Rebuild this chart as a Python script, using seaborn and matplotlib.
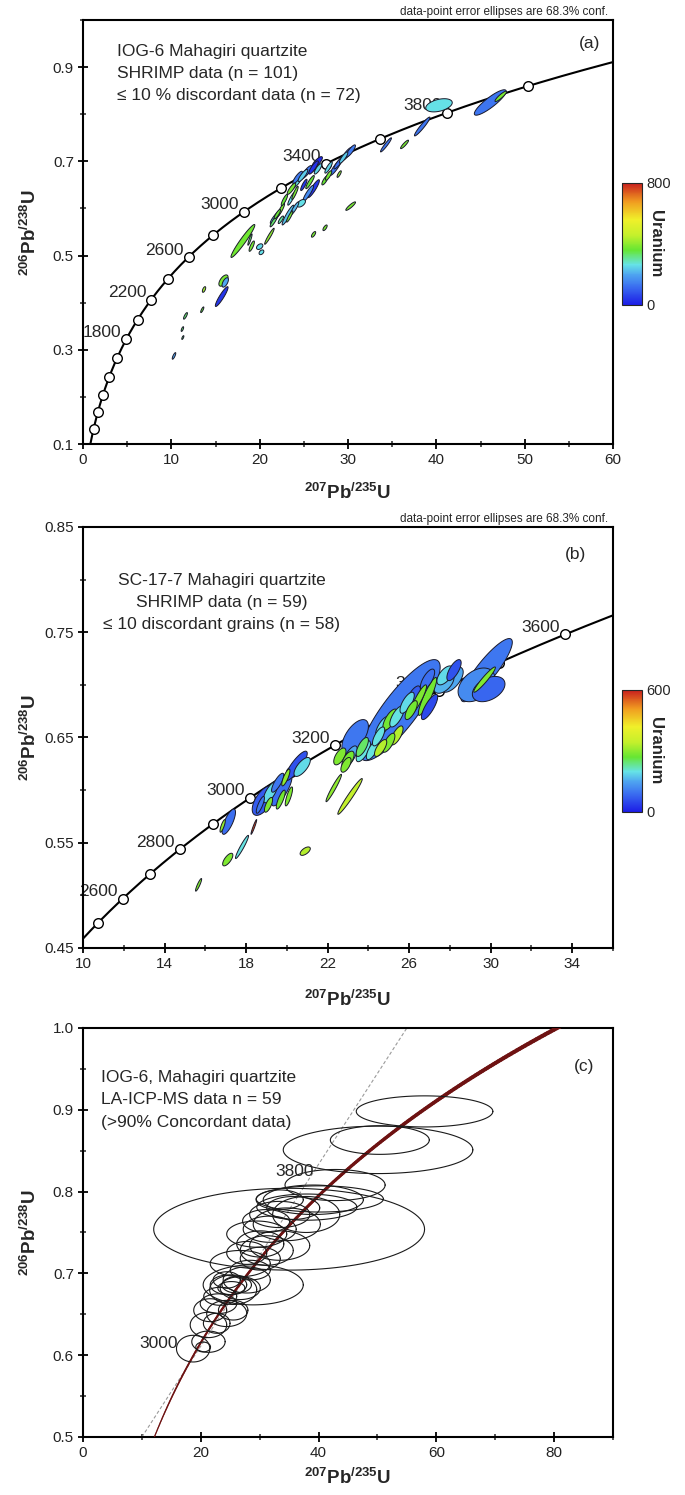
import numpy as np
import matplotlib
matplotlib.use("Agg")
import matplotlib.pyplot as plt
import seaborn as sns
from matplotlib.colors import LinearSegmentedColormap, Normalize
from matplotlib.cm import ScalarMappable
from matplotlib.collections import LineCollection
from matplotlib.ticker import MultipleLocator, FormatStrFormatter

# ---------------- decay constants (concordia) ----------------
LAMBDA_238 = 1.55125e-10
LAMBDA_235 = 9.8485e-10

# ---------------- panel (a) : IOG-6 SHRIMP ----------------
a_marker_ages = [800, 1000, 1200, 1400, 1600, 1800, 2000, 2200, 2400, 2600, 2800,
                 3000, 3200, 3400, 3600, 3800, 4000]
a_label_ages = [1800, 2200, 2600, 3000, 3400, 3800]
a_x = [10.3, 11.25, 11.3, 11.6, 13.5, 13.7, 15.7, 15.9, 16.1, 18.1, 18.9, 19.1, 20.0, 20.2,
       21.1, 21.6, 21.8, 22.0, 22.4, 22.4, 22.8, 23.2, 23.4, 23.6, 23.6, 23.95, 24.2, 24.3,
       24.7, 24.9, 25.3, 25.5, 25.7, 26.1, 26.1, 26.5, 26.6, 27.4, 27.8, 27.8, 28.6, 29.0,
       29.0, 29.5, 29.9, 30.3, 30.3, 26.1, 27.4, 24.0, 34.3, 36.4, 38.4, 40.3, 46.1, 47.3, 25.0]
a_y = [0.287, 0.344, 0.326, 0.372, 0.385, 0.428, 0.413, 0.447, 0.443, 0.531, 0.534, 0.520,
       0.519, 0.507, 0.541, 0.573, 0.582, 0.588, 0.597, 0.576, 0.618, 0.586, 0.583, 0.642,
       0.621, 0.600, 0.656, 0.666, 0.611, 0.670, 0.677, 0.632, 0.656, 0.642, 0.687, 0.698,
       0.684, 0.660, 0.670, 0.687, 0.687, 0.698, 0.673, 0.708, 0.716, 0.722, 0.605, 0.545,
       0.559, 0.633, 0.735, 0.736, 0.774, 0.819, 0.825, 0.838, 0.650]
a_sx = [0.20, 0.14, 0.12, 0.22, 0.18, 0.19, 0.72, 0.52, 0.36, 1.35, 0.24, 0.30, 0.36, 0.27,
        0.54, 0.42, 0.60, 0.36, 0.42, 0.30, 0.36, 0.66, 0.36, 0.48, 0.42, 0.48, 0.60, 0.54,
        0.48, 0.54, 0.60, 0.60, 0.48, 0.66, 0.54, 0.60, 0.42, 0.36, 0.36, 0.42, 0.66, 0.60,
        0.24, 0.48, 0.60, 0.54, 0.55, 0.24, 0.24, 0.36, 0.62, 0.45, 0.88, 1.50, 1.80, 0.66, 0.36]
a_sy = [0.007, 0.005, 0.004, 0.007, 0.006, 0.006, 0.021, 0.012, 0.010, 0.035, 0.012, 0.011,
        0.006, 0.005, 0.017, 0.012, 0.014, 0.010, 0.014, 0.008, 0.012, 0.021, 0.012, 0.012,
        0.014, 0.014, 0.014, 0.013, 0.008, 0.013, 0.014, 0.017, 0.014, 0.019, 0.014, 0.012,
        0.011, 0.010, 0.010, 0.012, 0.017, 0.014, 0.007, 0.012, 0.014, 0.013, 0.009, 0.006,
        0.006, 0.014, 0.015, 0.009, 0.020, 0.014, 0.027, 0.011, 0.012]
a_rho = [0.8, 0.7, 0.7, 0.8, 0.8, 0.6, 0.92, 0.6, 0.6, 0.96, 0.9, 0.8, 0.4, 0.4, 0.95, 0.9,
         0.9, 0.85, 0.9, 0.8, 0.85, 0.93, 0.9, 0.85, 0.9, 0.9, 0.85, 0.85, 0.5, 0.85, 0.85,
         0.9, 0.9, 0.9, 0.85, 0.8, 0.8, 0.8, 0.8, 0.85, 0.9, 0.9, 0.8, 0.85, 0.85, 0.85, 0.9,
         0.7, 0.7, 0.9, 0.95, 0.9, 0.95, 0.4, 0.88, 0.9, 0.85]
a_u = [200, 330, 330, 330, 360, 420, 40, 380, 200, 370, 330, 380, 250, 260, 400, 330, 230,
       360, 380, 300, 360, 230, 380, 380, 260, 220, 260, 140, 260, 240, 130, 160, 360, 40,
       30, 20, 250, 360, 380, 250, 130, 120, 400, 240, 130, 140, 380, 380, 380, 380, 130,
       380, 130, 260, 130, 380, 40]

# ---------------- panel (b) : SC-17-7 SHRIMP ----------------
b_marker_ages = [2500, 2600, 2700, 2800, 2900, 3000, 3100, 3200, 3300, 3400, 3500, 3600, 3700]
b_label_ages = [2600, 2800, 3000, 3200, 3400, 3600]
b_x = [15.67, 17.1, 17.8, 18.38, 17.15, 16.85, 20.9, 22.3, 23.1, 18.85, 19.2, 19.75, 19.7,
       20.1, 20.45, 20.75, 19.95, 19.55, 19.1, 18.7, 23.35, 25.56, 22.6, 23.0, 23.1, 22.9,
       23.75, 23.7, 24.2, 24.6, 25.0, 25.4, 24.5, 24.7, 25.06, 25.4, 25.9, 26.1, 26.2, 26.45,
       26.9, 27.0, 26.9, 27.7, 27.76, 28.1, 28.2, 29.8, 29.3, 29.7, 29.9]
b_y = [0.510, 0.534, 0.546, 0.565, 0.570, 0.566, 0.542, 0.602, 0.594, 0.590, 0.598, 0.600,
       0.591, 0.594, 0.623, 0.622, 0.612, 0.607, 0.586, 0.586, 0.651, 0.676, 0.632, 0.629,
       0.632, 0.624, 0.637, 0.641, 0.638, 0.640, 0.645, 0.652, 0.651, 0.660, 0.667, 0.670,
       0.683, 0.676, 0.689, 0.686, 0.689, 0.679, 0.705, 0.702, 0.709, 0.705, 0.714, 0.714,
       0.700, 0.705, 0.696]
b_sx = [0.15, 0.25, 0.32, 0.14, 0.33, 0.13, 0.25, 0.38, 0.60, 0.55, 0.35, 0.50, 0.22, 0.18,
        0.55, 0.40, 0.20, 0.30, 0.20, 0.20, 0.65, 1.96, 0.30, 0.30, 0.35, 0.25, 0.35, 0.30,
        0.30, 0.30, 0.30, 0.30, 0.30, 0.35, 0.35, 0.35, 0.35, 0.30, 0.35, 0.40, 0.45, 0.40,
        0.35, 0.50, 0.40, 0.55, 0.35, 1.26, 0.90, 0.53, 0.80]
b_sy = [0.006, 0.006, 0.011, 0.007, 0.012, 0.006, 0.004, 0.013, 0.017, 0.014, 0.010, 0.015,
        0.009, 0.009, 0.014, 0.009, 0.008, 0.009, 0.007, 0.008, 0.016, 0.048, 0.008, 0.008,
        0.010, 0.007, 0.010, 0.009, 0.009, 0.008, 0.009, 0.009, 0.009, 0.010, 0.010, 0.010,
        0.010, 0.009, 0.010, 0.014, 0.018, 0.012, 0.010, 0.010, 0.009, 0.012, 0.010, 0.030,
        0.016, 0.012, 0.012]
b_rho = [0.9, 0.7, 0.95, 0.95, 0.75, 0.8, 0.6, 0.96, 0.97, 0.6, 0.7, 0.8, 0.8, 0.8, 0.85,
         0.7, 0.8, 0.8, 0.7, 0.8, 0.6, 0.85, 0.6, 0.6, 0.7, 0.6, 0.7, 0.7, 0.7, 0.7, 0.7,
         0.7, 0.7, 0.7, 0.7, 0.7, 0.7, 0.7, 0.7, 0.9, 0.9, 0.8, 0.7, 0.5, 0.6, 0.6, 0.7,
         0.88, 0.4, 0.95, 0.4]
b_u = [290, 290, 200, 570, 90, 300, 330, 300, 340, 70, 190, 90, 280, 290, 60, 190, 300,
       100, 290, 100, 100, 100, 290, 280, 150, 290, 200, 250, 200, 330, 290, 330, 200, 190,
       280, 200, 190, 280, 70, 290, 280, 50, 90, 160, 190, 150, 60, 100, 120, 290, 80]

# ---------------- panel (c) : IOG-6 LA-ICP-MS ----------------
c_label_ages = [3000, 3800]
c_ref_x = [10.0, 55.0]
c_ref_y = [0.5, 1.0]
c_x = [18.7, 21.3, 20.4, 21.3, 22.7, 24.4, 21.6, 23.0, 25.5, 23.3, 25.5, 24.7, 26.1, 25.2,
       26.7, 28.9, 27.8, 24.4, 28.4, 26.7, 30.1, 31.2, 27.8, 30.1, 33.4, 29.5, 35.0, 31.7,
       34.6, 31.1, 33.4, 37.9, 35.7, 33.4, 39.1, 42.8, 40.2, 38.0, 50.1, 50.4, 58.0]
c_y = [0.608, 0.6165, 0.610, 0.637, 0.639, 0.651, 0.655, 0.663, 0.655, 0.672, 0.680, 0.686,
       0.686, 0.682, 0.682, 0.686, 0.692, 0.692, 0.704, 0.712, 0.718, 0.728, 0.725, 0.736,
       0.734, 0.748, 0.754, 0.754, 0.760, 0.764, 0.772, 0.772, 0.780, 0.790, 0.790, 0.808,
       0.791, 0.781, 0.851, 0.863, 0.898]
c_sx = [2.83, 2.83, 1.25, 3.1, 2.26, 3.4, 2.8, 3.1, 2.5, 2.8, 4.0, 3.1, 2.5, 2.3, 3.4, 8.5,
        4.0, 2.3, 3.4, 5.1, 3.4, 4.5, 3.4, 4.0, 5.1, 5.1, 23.0, 4.5, 5.7, 4.0, 5.1, 5.7, 4.5,
        4.0, 8.5, 8.5, 10.8, 8.5, 16.1, 8.4, 11.6]
c_sy = [0.0163, 0.013, 0.006, 0.0155, 0.0122, 0.016, 0.014, 0.012, 0.012, 0.011, 0.018,
        0.012, 0.010, 0.008, 0.014, 0.0245, 0.016, 0.010, 0.012, 0.016, 0.014, 0.018, 0.014,
        0.016, 0.018, 0.016, 0.050, 0.016, 0.020, 0.014, 0.016, 0.022, 0.014, 0.012, 0.018,
        0.019, 0.016, 0.016, 0.029, 0.0175, 0.019]

# ---------------- style ----------------
sns.set_theme(style="ticks")
plt.rcParams["font.family"] = ["Liberation Sans", "DejaVu Sans"]
plt.rcParams["mathtext.fontset"] = "custom"
plt.rcParams["mathtext.rm"] = "Liberation Sans"
plt.rcParams["mathtext.bf"] = "Liberation Sans:bold"
plt.rcParams["axes.linewidth"] = 1.5

uranium_cmap = LinearSegmentedColormap.from_list(
    "uranium",
    [(0.0, "#1c1ce6"), (0.15, "#3b6ff0"), (0.25, "#4fa6f0"), (0.33, "#66e3e6"),
     (0.45, "#66e633"), (0.57, "#c4f02c"), (0.70, "#f0f02a"), (0.85, "#f09a20"),
     (1.0, "#c81e1e")])

XLAB = r"$\mathbf{{}^{207}Pb^{/235}U}$"
YLAB = r"$\mathbf{{}^{206}Pb^{/238}U}$"
TXT = 12.5


def concordia(ages):
    t = np.asarray(ages, dtype=float) * 1e6
    return np.exp(LAMBDA_235 * t) - 1.0, np.exp(LAMBDA_238 * t) - 1.0


def ellipse_xy(cx, cy, sx, sy, rho):
    th = np.linspace(0, 2 * np.pi, 120)
    ex = cx + sx * np.cos(th)
    ey = cy + sy * (rho * np.cos(th) + np.sqrt(1 - rho ** 2) * np.sin(th))
    return ex, ey


def draw_filled(ax, xs, ys, sxs, sys_, rhos, us, norm):
    area = [-(a * b * np.sqrt(1 - r ** 2)) for a, b, r in zip(sxs, sys_, rhos)]
    for i in np.argsort(area):
        ex, ey = ellipse_xy(xs[i], ys[i], sxs[i], sys_[i], rhos[i])
        ax.fill(ex, ey, facecolor=uranium_cmap(norm(us[i])), edgecolor="#1a1a2a",
                linewidth=0.7, zorder=4)


def style_axes(ax, xlab_y):
    for s in ax.spines.values():
        s.set_visible(True)
        s.set_linewidth(1.5)
        s.set_color("black")
    ax.tick_params(which="major", direction="inout", length=7, width=1.3,
                   labelsize=11, colors="black", labelcolor="#222222", pad=3)
    ax.tick_params(which="minor", direction="inout", length=4, width=1.1)
    ax.tick_params(top=False, right=False, which="both")
    ax.set_xlabel(XLAB, fontsize=13.5)
    ax.set_ylabel(YLAB, fontsize=13.5)
    ax.yaxis.set_label_coords(-0.082, 0.5)
    ax.xaxis.set_label_coords(0.5, xlab_y)
    ax.grid(False)


def add_age_curve(ax, t_lo, t_hi, marker_ages, label_ages):
    tc = np.linspace(t_lo, t_hi, 400)
    cx, cy = concordia(tc)
    sns.lineplot(x=cx, y=cy, ax=ax, color="black", linewidth=1.5, sort=False,
                 estimator=None, zorder=2)
    mx, my = concordia(marker_ages)
    sns.scatterplot(x=mx, y=my, ax=ax, s=48, facecolor="white", edgecolor="black",
                    linewidth=1.0, zorder=3, legend=False)
    lx, ly = concordia(label_ages)
    for age, x, y in zip(label_ages, lx, ly):
        ax.annotate(str(age), xy=(x, y), xytext=(-5, 7), textcoords="offset pixels",
                    ha="right", va="center", fontsize=TXT, zorder=2.5,
                    annotation_clip=False)


def add_cbar(fig, rect, vmax):
    cax = fig.add_axes(rect)
    sm = ScalarMappable(norm=Normalize(0, vmax), cmap=uranium_cmap)
    cb = fig.colorbar(sm, cax=cax, ticks=[0, vmax])
    cb.outline.set_linewidth(0.8)
    cax.tick_params(length=0, labelsize=10.5, pad=3)
    cax.text(1.7, 0.5, "Uranium", transform=cax.transAxes, rotation=270,
             ha="center", va="center", fontsize=12, fontweight="bold")


fig = plt.figure(figsize=(6.85, 14.95), dpi=100)

# ---------------- (a) ----------------
axA = fig.add_axes([0.1212, 0.7030, 0.7737, 0.2836])
axA.set_xlim(0, 60)
axA.set_ylim(0.1, 1.0)
axA.xaxis.set_major_locator(MultipleLocator(10))
axA.xaxis.set_minor_locator(MultipleLocator(5))
axA.yaxis.set_major_locator(MultipleLocator(0.2, offset=0.1))
axA.yaxis.set_minor_locator(MultipleLocator(0.1))
axA.yaxis.set_major_formatter(FormatStrFormatter("%.1f"))
add_age_curve(axA, 600, 4200, a_marker_ages, a_label_ages)
draw_filled(axA, a_x, a_y, a_sx, a_sy, a_rho, a_u, Normalize(0, 800))
style_axes(axA, -0.092)
for i, line in enumerate(["IOG-6 Mahagiri quartzite", "SHRIMP data (n = 101)",
                          "\u2264 10 % discordant data (n = 72)"]):
    axA.text(0.064, 0.925 - i * 0.051, line, transform=axA.transAxes, fontsize=TXT,
             ha="left", va="center")
axA.text(0.955, 0.945, "(a)", transform=axA.transAxes, fontsize=12.5, ha="center",
         va="center")
axA.text(0.99, 1.02, "data-point error ellipses are 68.3% conf.",
         transform=axA.transAxes, fontsize=8.5, ha="right", va="center",
         family=["Liberation Sans Narrow", "Liberation Sans"])
add_cbar(fig, [0.908, 0.796, 0.0292, 0.0816], 800)

# ---------------- (b) ----------------
axB = fig.add_axes([0.1212, 0.3659, 0.7737, 0.2816])
axB.set_xlim(10, 36)
axB.set_ylim(0.45, 0.85)
axB.xaxis.set_major_locator(MultipleLocator(4, offset=2))
axB.xaxis.set_minor_locator(MultipleLocator(2))
axB.yaxis.set_major_locator(MultipleLocator(0.1, offset=0.05))
axB.yaxis.set_minor_locator(MultipleLocator(0.05))
axB.yaxis.set_major_formatter(FormatStrFormatter("%.2f"))
add_age_curve(axB, 2350, 3800, b_marker_ages, b_label_ages)
draw_filled(axB, b_x, b_y, b_sx, b_sy, b_rho, b_u, Normalize(0, 600))
style_axes(axB, -0.1)
for i, line in enumerate(["SC-17-7 Mahagiri quartzite", "SHRIMP data (n = 59)",
                          "\u2264 10 discordant grains (n = 58)"]):
    axB.text(0.262, 0.874 - i * 0.053, line, transform=axB.transAxes, fontsize=TXT,
             ha="center", va="center")
axB.text(0.93, 0.935, "(b)", transform=axB.transAxes, fontsize=12.5, ha="center",
         va="center")
axB.text(0.99, 1.02, "data-point error ellipses are 68.3% conf.",
         transform=axB.transAxes, fontsize=8.5, ha="right", va="center",
         family=["Liberation Sans Narrow", "Liberation Sans"])
add_cbar(fig, [0.908, 0.4569, 0.0292, 0.0816], 600)

# ---------------- (c) ----------------
axC = fig.add_axes([0.1212, 0.0388, 0.7737, 0.2736])
axC.set_xlim(0, 90)
axC.set_ylim(0.5, 1.0)
axC.xaxis.set_major_locator(MultipleLocator(20))
axC.xaxis.set_minor_locator(MultipleLocator(10))
axC.yaxis.set_major_locator(MultipleLocator(0.1))
axC.yaxis.set_minor_locator(MultipleLocator(0.05))
axC.yaxis.set_major_formatter(FormatStrFormatter("%.1f"))
sns.lineplot(x=c_ref_x, y=c_ref_y, ax=axC, color="#9a9a9a", linewidth=0.8,
             linestyle=(0, (3, 2)), zorder=2)
tc = np.linspace(2600, 4480, 300)
ccx, ccy = concordia(tc)
pts = np.column_stack([ccx, ccy]).reshape(-1, 1, 2)
segs = np.concatenate([pts[:-1], pts[1:]], axis=1)
lc = LineCollection(segs, colors="#6e1212", linewidths=np.linspace(0.8, 3.0, len(segs)),
                    zorder=3, capstyle="round")
axC.add_collection(lc)
order_c = np.argsort([-a * b for a, b in zip(c_sx, c_sy)])
for i in order_c:
    ex, ey = ellipse_xy(c_x[i], c_y[i], c_sx[i], c_sy[i], 0.0)
    axC.plot(ex, ey, color="#1a1a1a", linewidth=0.8, zorder=4)
lx, ly = concordia(c_label_ages)
for age, x, y in zip(c_label_ages, lx, ly):
    axC.annotate(str(age), xy=(x, y), xytext=(-12, 18), textcoords="offset pixels",
                 ha="right", va="center", fontsize=TXT, zorder=5)
style_axes(axC, -0.075)
for i, line in enumerate(["IOG-6, Mahagiri quartzite", "LA-ICP-MS data n = 59",
                          "(>90% Concordant data)"]):
    axC.text(0.034, 0.878 - i * 0.054, line, transform=axC.transAxes, fontsize=TXT,
             ha="left", va="center")
axC.text(0.945, 0.907, "(c)", transform=axC.transAxes, fontsize=12.5, ha="center",
         va="center")

fig.savefig("out.png", dpi=100, facecolor="white")
